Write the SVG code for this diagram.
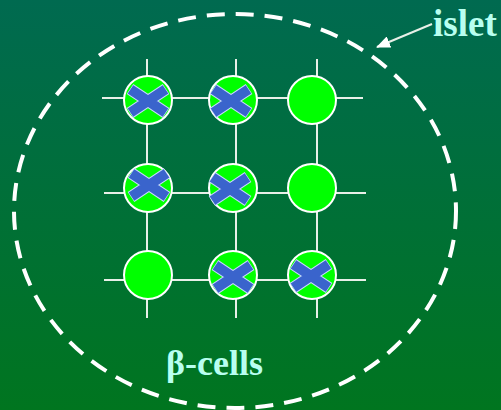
<svg xmlns="http://www.w3.org/2000/svg" width="501" height="410" viewBox="0 0 501 410">
<defs>
<linearGradient id="bg" x1="0" y1="0" x2="0" y2="1">
<stop offset="0" stop-color="#006a50"/>
<stop offset="1" stop-color="#00751f"/>
</linearGradient>
<g id="x">
<path d="M-18,-12 L18,12 M-18,12 L18,-12" stroke="#c8d8ff" stroke-width="12"/>
<path d="M-17.5,-11.6 L17.5,11.6 M-17.5,11.6 L17.5,-11.6" stroke="#3a64cc" stroke-width="10"/>
</g>
<marker id="ah" viewBox="0 0 14 12" refX="13" refY="6" markerWidth="14" markerHeight="12" orient="auto" markerUnits="userSpaceOnUse">
<path d="M0,0 L14,6 L0,12 Z" fill="#fff"/>
</marker>
<style>
.grid line{stroke:#e8f0e8;stroke-width:2}
.cell circle{fill:#00ff00;stroke:#fff;stroke-width:2}
.lbl{font-family:"Liberation Serif",serif;font-weight:bold;fill:#b8fff0}
</style>
</defs>
<rect width="501" height="410" fill="url(#bg)"/>
<ellipse cx="235" cy="211" rx="221" ry="197" fill="none" stroke="#fff" stroke-width="4" stroke-dasharray="18 11"/>
<g id="connectors" class="grid">
<line x1="102" y1="98" x2="363" y2="98"/>
<line x1="104" y1="193" x2="366" y2="193"/>
<line x1="104" y1="280" x2="366" y2="280"/>
<line x1="147" y1="59" x2="147" y2="318"/>
<line x1="236" y1="59" x2="236" y2="318"/>
<line x1="317" y1="59" x2="317" y2="318"/>
<line x1="432" y1="24" x2="377" y2="47" stroke-width="2.5" marker-end="url(#ah)"/>
</g>
<g id="c11" class="cell"><circle cx="148" cy="100" r="24"/><use href="#x" x="148" y="101"/></g>
<g id="c12" class="cell"><circle cx="233" cy="100" r="24"/><use href="#x" x="231" y="101"/></g>
<g id="c13" class="cell"><circle cx="312" cy="100" r="24"/></g>
<g id="c21" class="cell"><circle cx="148" cy="188" r="24"/><use href="#x" x="149" y="185"/></g>
<g id="c22" class="cell"><circle cx="233" cy="188" r="24"/><use href="#x" x="230" y="189"/></g>
<g id="c23" class="cell"><circle cx="312" cy="188" r="24"/></g>
<g id="c31" class="cell"><circle cx="148" cy="275" r="24"/></g>
<g id="c32" class="cell"><circle cx="233" cy="275" r="24"/><use href="#x" x="233" y="277"/></g>
<g id="c33" class="cell"><circle cx="312" cy="275" r="24"/><use href="#x" x="311" y="276"/></g>
<g id="islet-label"><text class="lbl" x="433" y="36" font-size="37">islet</text></g>
<g id="beta-label"><text class="lbl" x="166" y="375" font-size="36">β-cells</text></g>
</svg>
